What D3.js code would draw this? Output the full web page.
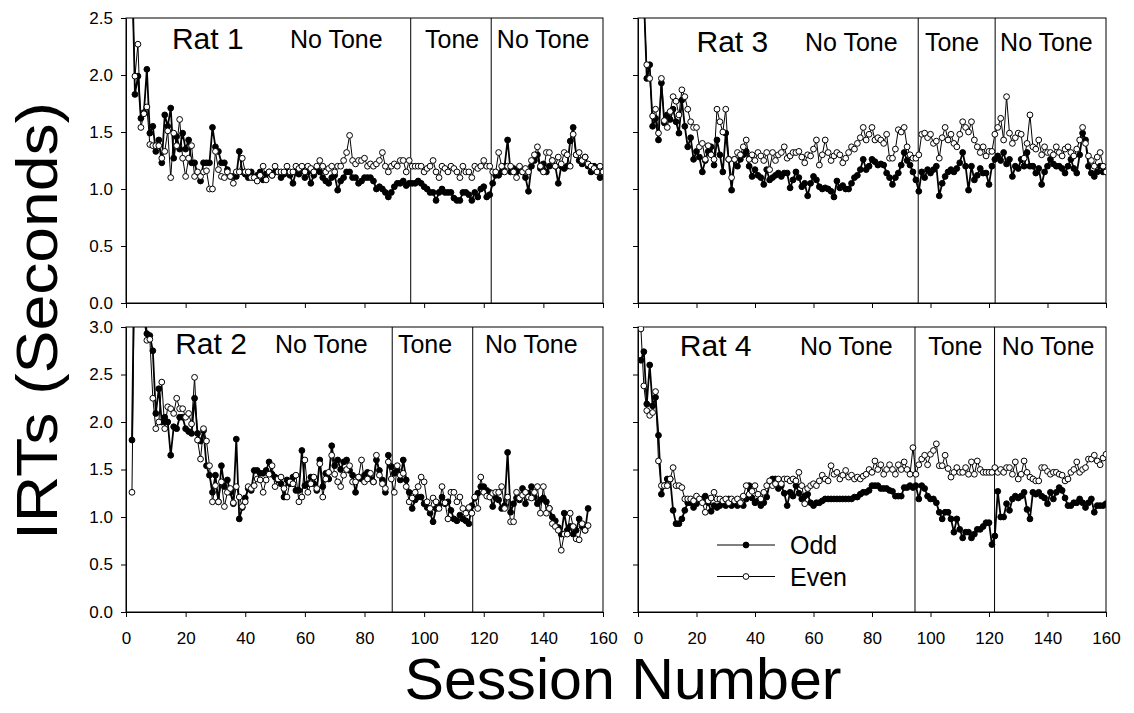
<!DOCTYPE html>
<html lang="en">
<head>
    <meta charset="utf-8" />
    <title>IRTs by Session</title>
    <script src="https://d3js.org/d3.v7.min.js"></script>
    <style>
        body { margin: 0; background: white; }
        svg { display: block; }
        text { font-family: "Liberation Sans", Arial, Helvetica, sans-serif; fill: black; }
        .axis path, .axis line { stroke: black; stroke-width: 1; }
        .axis text { font-size: 17px; fill: black; font-family: "Liberation Sans", Arial, sans-serif; }
    </style>
</head>
<body>
    <script>
        // Session numbers (x categories)
        const sessions = d3.range(1, 161);

        // Rat 1 (top left)
        const rat1Odd = [
            3.60, 3.00, 1.83, 1.99, 1.62, 1.67, 2.05, 1.49, 1.55, 1.33,
            1.43, 1.23, 1.65, 1.55, 1.71, 1.27, 1.46, 1.35, 1.49, 1.35,
            1.43, 1.23, 1.23, 1.13, 1.07, 1.23, 1.23, 1.23, 1.54, 1.37,
            1.33, 1.23, 1.23, 1.17, 1.11, 1.11, 1.11, 1.33, 1.15, 1.13,
            1.10, 1.15, 1.10, 1.12, 1.15, 1.08, 1.13, 1.15, 1.12, 1.15,
            1.15, 1.10, 1.13, 1.15, 1.12, 1.05, 1.15, 1.13, 1.17, 1.10,
            1.15, 1.05, 1.12, 1.17, 1.15, 1.10, 1.07, 1.05, 1.10, 1.12,
            0.99, 1.07, 1.10, 1.15, 1.15, 1.10, 1.10, 1.05, 1.07, 1.10,
            1.10, 1.10, 1.07, 1.00, 1.02, 1.00, 0.97, 0.93, 0.97, 1.02,
            1.05, 1.05, 1.07, 1.03, 1.05, 1.05, 1.05, 1.07, 1.05, 1.02,
            1.00, 0.97, 0.97, 0.90, 0.97, 1.00, 0.97, 0.97, 0.97, 0.92,
            0.90, 0.90, 0.97, 0.97, 0.95, 0.90, 0.97, 0.93, 1.00, 1.02,
            0.93, 0.95, 1.05, 1.12, 1.12, 1.15, 1.20, 1.43, 1.15, 1.18,
            1.15, 1.18, 1.15, 1.10, 0.98, 1.20, 1.25, 1.30, 1.18, 1.22,
            1.15, 1.20, 1.25, 1.20, 1.05, 1.20, 1.18, 1.20, 1.42, 1.54,
            1.30, 1.25, 1.22, 1.28, 1.20, 1.15, 1.20, 1.15, 1.10, 1.15
        ];
        const rat1Even = [
            3.30, 2.80, 1.99, 2.27, 1.54, 1.66, 1.72, 1.39, 1.38, 1.38,
            1.38, 1.27, 1.33, 1.51, 1.10, 1.49, 1.38, 1.61, 1.27, 1.11,
            1.27, 1.38, 1.11, 1.15, 1.11, 1.15, 1.16, 1.00, 1.00, 1.33,
            1.17, 1.11, 1.10, 1.15, 1.11, 1.05, 1.15, 1.15, 1.27, 1.15,
            1.15, 1.10, 1.10, 1.07, 1.12, 1.20, 1.08, 1.15, 1.12, 1.20,
            1.15, 1.15, 1.15, 1.20, 1.15, 1.15, 1.20, 1.18, 1.20, 1.15,
            1.20, 1.18, 1.15, 1.20, 1.25, 1.20, 1.15, 1.18, 1.20, 1.15,
            1.20, 1.20, 1.25, 1.32, 1.47, 1.25, 1.22, 1.25, 1.25, 1.27,
            1.20, 1.22, 1.20, 1.22, 1.25, 1.32, 1.20, 1.15, 1.20, 1.22,
            1.20, 1.25, 1.25, 1.15, 1.25, 1.20, 1.20, 1.20, 1.20, 1.15,
            1.18, 1.20, 1.25, 1.15, 1.10, 1.20, 1.18, 1.15, 1.20, 1.18,
            1.15, 1.10, 1.20, 1.15, 1.15, 1.10, 1.20, 1.18, 1.20, 1.25,
            1.20, 1.20, 1.15, 1.15, 1.32, 1.20, 1.15, 1.20, 1.20, 1.15,
            1.10, 1.20, 1.15, 1.18, 1.15, 1.25, 1.30, 1.37, 1.20, 1.15,
            1.32, 1.32, 1.25, 1.20, 1.28, 1.22, 1.32, 1.30, 1.20, 1.48,
            1.30, 1.32, 1.25, 1.28, 1.22, 1.20, 1.18, 1.15, 1.20, 1.15
        ];

        // Rat 3 (top right)
        const rat3Odd = [
            3.20, 2.70, 1.97, 2.09, 1.55, 1.62, 1.43, 1.93, 1.58, 1.65,
            1.61, 1.70, 1.59, 1.49, 1.78, 1.55, 1.37, 1.45, 1.26, 1.33,
            1.28, 1.15, 1.25, 1.33, 1.37, 1.21, 1.43, 1.30, 1.15, 1.49,
            1.26, 0.99, 1.26, 1.20, 1.26, 1.30, 1.33, 1.20, 1.11, 1.17,
            1.12, 1.10, 1.04, 1.17, 1.08, 1.10, 1.12, 1.14, 1.11, 1.14,
            1.14, 1.01, 1.08, 1.15, 1.10, 1.02, 1.05, 0.94, 1.05, 1.11,
            1.08, 1.02, 1.00, 1.01, 1.00, 0.98, 0.93, 1.07, 1.01, 1.03,
            1.00, 1.00, 1.05, 1.10, 1.12, 1.17, 1.26, 1.17, 1.20, 1.26,
            1.24, 1.21, 1.22, 1.21, 1.14, 1.10, 1.04, 1.10, 1.14, 1.21,
            1.32, 1.25, 1.21, 1.15, 1.08, 0.98, 1.15, 1.10, 1.17, 1.14,
            1.17, 1.20, 0.94, 1.05, 1.11, 1.15, 1.17, 1.15, 1.18, 1.23,
            1.32, 1.20, 0.99, 1.20, 1.08, 1.12, 1.18, 1.14, 1.14, 1.04,
            1.20, 1.26, 1.29, 1.25, 1.32, 1.22, 1.26, 1.11, 1.20, 1.18,
            1.26, 1.20, 1.32, 1.20, 1.20, 1.14, 1.18, 1.04, 1.15, 1.20,
            1.26, 1.22, 1.20, 1.20, 1.18, 1.14, 1.20, 1.26, 1.18, 1.14,
            1.30, 1.49, 1.43, 1.20, 1.14, 1.11, 1.15, 1.20, 1.15, 1.15
        ];
        const rat3Even = [
            3.00, 2.60, 2.09, 1.97, 1.64, 1.70, 1.49, 1.97, 1.60, 1.54,
            1.68, 1.81, 1.77, 1.65, 1.87, 1.81, 1.70, 1.59, 1.54, 1.54,
            1.37, 1.40, 1.26, 1.38, 1.30, 1.26, 1.70, 1.59, 1.50, 1.70,
            1.26, 1.10, 1.26, 1.32, 1.30, 1.37, 1.43, 1.26, 1.30, 1.25,
            1.32, 1.29, 1.25, 1.32, 1.17, 1.32, 1.25, 1.30, 1.32, 1.37,
            1.27, 1.29, 1.32, 1.32, 1.33, 1.28, 1.23, 1.30, 1.29, 1.35,
            1.43, 1.21, 1.30, 1.43, 1.32, 1.25, 1.29, 1.32, 1.30, 1.23,
            1.27, 1.32, 1.37, 1.35, 1.40, 1.45, 1.54, 1.43, 1.48, 1.54,
            1.43, 1.45, 1.43, 1.40, 1.48, 1.27, 1.27, 1.35, 1.52, 1.50,
            1.54, 1.37, 1.30, 1.27, 1.27, 1.30, 1.48, 1.49, 1.45, 1.48,
            1.40, 1.42, 1.27, 1.45, 1.54, 1.43, 1.48, 1.40, 1.37, 1.48,
            1.59, 1.54, 1.50, 1.59, 1.43, 1.37, 1.32, 1.37, 1.29, 1.33,
            1.33, 1.48, 1.54, 1.62, 1.43, 1.81, 1.49, 1.40, 1.45, 1.49,
            1.48, 1.27, 1.40, 1.65, 1.37, 1.35, 1.43, 1.30, 1.37, 1.32,
            1.32, 1.30, 1.37, 1.32, 1.29, 1.35, 1.37, 1.32, 1.29, 1.35,
            1.43, 1.54, 1.40, 1.29, 1.25, 1.20, 1.28, 1.32, 1.20, 1.15
        ];

        // Rat 2 (bottom left), no data for session 1 and after 155
        const rat2Odd = [
            null, 1.81, 4.20, 3.80, 3.50, 3.20, 2.93, 2.91, 2.75, 2.09,
            2.35, 2.00, 2.05, 2.00, 1.65, 1.95, 1.93, 2.05, 2.05, 1.93,
            1.90, 1.88, 2.25, 1.88, 1.80, 1.91, 1.54, 1.44, 1.26, 1.44,
            1.16, 1.54, 1.32, 1.39, 1.26, 1.14, 1.82, 0.98, 1.10, 1.20,
            1.30, 1.28, 1.49, 1.49, 1.46, 1.46, 1.49, 1.58, 1.45, 1.42,
            1.39, 1.35, 1.21, 1.39, 1.35, 1.42, 1.28, 1.28, 1.70, 1.33,
            1.35, 1.42, 1.35, 1.28, 1.60, 1.32, 1.46, 1.40, 1.75, 1.54,
            1.60, 1.50, 1.58, 1.60, 1.49, 1.44, 1.26, 1.42, 1.40, 1.44,
            1.47, 1.40, 1.37, 1.60, 1.49, 1.39, 1.26, 1.65, 1.53, 1.46,
            1.50, 1.39, 1.60, 1.39, 1.26, 1.09, 1.18, 1.21, 1.21, 1.14,
            1.10, 1.04, 0.95, 1.09, 1.12, 1.21, 1.14, 1.16, 1.07, 0.98,
            0.96, 1.02, 0.98, 0.96, 0.93, 1.12, 1.20, 1.25, 1.32, 1.32,
            1.28, 1.26, 1.11, 1.20, 1.18, 1.09, 1.12, 1.68, 1.05, 1.14,
            1.20, 1.18, 1.30, 1.14, 1.25, 1.32, 1.21, 1.14, 1.18, 1.20,
            1.16, 1.09, 1.00, 0.96, 0.89, 0.82, 1.04, 0.86, 0.90, 0.82,
            0.86, 0.98, 0.90, 0.86, 1.09, null, null, null, null, null
        ];
        const rat2Even = [
            null, 1.26, 4.00, 3.70, 3.40, 3.10, 2.86, 2.87, 2.25, 1.93,
            2.00, 2.42, 1.93, 2.16, 2.14, 2.09, 2.25, 2.14, 2.14, 2.05,
            2.09, 1.98, 2.47, 1.81, 1.61, 1.93, 1.80, 1.54, 1.16, 1.33,
            1.16, 1.37, 1.11, 1.26, 1.30, 1.15, 1.32, 1.21, 1.11, 1.16,
            1.32, 1.30, 1.33, 1.40, 1.39, 1.26, 1.39, 1.45, 1.54, 1.32,
            1.40, 1.42, 1.30, 1.21, 1.37, 1.35, 1.44, 1.16, 1.21, 1.60,
            1.26, 1.35, 1.42, 1.30, 1.56, 1.21, 1.40, 1.47, 1.65, 1.45,
            1.37, 1.32, 1.44, 1.50, 1.54, 1.37, 1.37, 1.42, 1.60, 1.37,
            1.40, 1.46, 1.37, 1.65, 1.44, 1.35, 1.30, 1.58, 1.40, 1.26,
            1.54, 1.44, 1.46, 1.32, 1.16, 1.20, 1.26, 1.32, 1.42, 1.37,
            1.16, 1.09, 1.20, 1.16, 1.09, 1.32, 1.15, 0.98, 1.26, 1.26,
            1.16, 1.21, 1.09, 1.04, 1.10, 1.04, 1.21, 1.09, 1.42, 1.26,
            1.22, 1.21, 1.25, 1.26, 1.26, 1.32, 1.09, 1.21, 0.95, 0.95,
            1.26, 1.20, 1.23, 1.26, 1.21, 1.20, 1.26, 1.32, 1.04, 1.32,
            1.04, 1.09, 0.93, 0.90, 0.86, 0.65, 0.82, 0.82, 1.04, 0.90,
            0.77, 0.76, 0.93, 0.86, 0.91, null, null, null, null, null
        ];

        // Rat 4 (bottom right)
        const rat4Odd = [
            2.65, 2.74, 2.19, 2.60, 2.17, 2.26, 1.86, 1.24, 1.33, 1.40,
            1.40, 1.07, 0.93, 0.93, 0.98, 1.07, 1.15, 1.15, 1.10, 1.14,
            1.17, 1.19, 1.22, 1.15, 1.06, 1.12, 1.10, 1.12, 1.15, 1.12,
            1.19, 1.12, 1.15, 1.12, 1.15, 1.12, 1.19, 1.33, 1.20, 1.15,
            1.17, 1.12, 1.15, 1.21, 1.35, 1.40, 1.40, 1.30, 1.33, 1.25,
            1.12, 1.26, 1.22, 1.33, 1.25, 1.19, 1.22, 1.24, 1.15, 1.12,
            1.15, 1.15, 1.17, 1.19, 1.19, 1.19, 1.19, 1.19, 1.19, 1.19,
            1.19, 1.19, 1.19, 1.21, 1.21, 1.24, 1.26, 1.26, 1.28, 1.33,
            1.33, 1.33, 1.30, 1.30, 1.30, 1.28, 1.27, 1.22, 1.22, 1.22,
            1.31, 1.31, 1.33, 1.31, 1.33, 1.19, 1.33, 1.30, 1.22, 1.19,
            1.19, 1.15, 1.05, 0.98, 1.05, 1.05, 0.98, 0.84, 0.98, 0.87,
            0.78, 0.84, 0.84, 0.78, 0.82, 0.87, 0.87, 0.90, 0.94, 0.94,
            0.71, 0.80, 1.27, 1.00, 1.00, 1.14, 1.07, 1.19, 1.22, 1.20,
            1.22, 1.26, 1.08, 0.98, 1.26, 1.24, 1.26, 1.22, 1.20, 1.14,
            1.26, 1.19, 1.26, 1.31, 1.28, 1.20, 1.12, 1.12, 1.15, 1.15,
            1.19, 1.15, 1.10, 1.15, 1.19, 1.05, 1.12, 1.12, 1.12, 1.14
        ];
        const rat4Even = [
            2.98, 2.38, 2.12, 2.07, 2.10, 2.32, 1.59, 1.33, 1.33, 1.33,
            1.40, 1.52, 1.33, 1.33, 1.31, 1.19, 1.19, 1.19, 1.17, 1.22,
            1.19, 1.15, 1.05, 1.17, 1.20, 1.26, 1.19, 1.19, 1.17, 1.19,
            1.15, 1.19, 1.17, 1.19, 1.15, 1.22, 1.33, 1.24, 1.27, 1.33,
            1.24, 1.19, 1.26, 1.33, 1.38, 1.33, 1.35, 1.40, 1.35, 1.40,
            1.40, 1.38, 1.40, 1.38, 1.47, 1.33, 1.14, 1.30, 1.33, 1.35,
            1.33, 1.38, 1.44, 1.40, 1.38, 1.54, 1.45, 1.47, 1.40, 1.44,
            1.49, 1.42, 1.44, 1.40, 1.42, 1.40, 1.43, 1.45, 1.50, 1.47,
            1.59, 1.50, 1.55, 1.45, 1.50, 1.55, 1.50, 1.45, 1.55, 1.50,
            1.58, 1.50, 1.45, 1.73, 1.45, 1.55, 1.61, 1.65, 1.55, 1.66,
            1.70, 1.77, 1.54, 1.54, 1.65, 1.51, 1.42, 1.47, 1.52, 1.47,
            1.47, 1.52, 1.45, 1.58, 1.45, 1.59, 1.50, 1.47, 1.47, 1.47,
            1.47, 1.52, 1.47, 1.50, 1.47, 1.52, 1.52, 1.45, 1.58, 1.40,
            1.45, 1.59, 1.47, 1.42, 1.40, 1.38, 1.38, 1.52, 1.52, 1.48,
            1.45, 1.47, 1.47, 1.45, 1.44, 1.38, 1.40, 1.47, 1.50, 1.58,
            1.47, 1.50, 1.52, 1.61, 1.61, 1.65, 1.59, 1.55, 1.62, 1.66
        ];

        // Tick values
        const xTicks = [0, 20, 40, 60, 80, 100, 120, 140, 160];
        const yTicksTop = [0, 0.5, 1.0, 1.5, 2.0, 2.5];
        const yTicksBottom = [0, 0.5, 1.0, 1.5, 2.0, 2.5, 3.0];

        // Session where the tone phase starts and ends, per rat
        const rat1Breaks = [95.5, 122.5];
        const rat2Breaks = [89.3, 116.3];
        const rat3Breaks = [95.8, 122.1];
        const rat4Breaks = [94.7, 121.9];

        const phaseNames = ["No Tone", "Tone", "No Tone"];
        const seriesNames = ["Odd", "Even"];

        // Page layout
        const width = 1134, height = 713;
        const colX = [126, 638], colW = [477, 468];
        const rowY = [18, 327], rowH = 285;

        const panels = [
            { name: "Rat 1", odd: rat1Odd, even: rat1Even, breaks: rat1Breaks, yMax: 2.5, yTicks: yTicksTop,
              col: 0, row: 0, nameAt: 15.4, phaseAt: [55, 100.3, 124.4], base: 31 },
            { name: "Rat 3", odd: rat3Odd, even: rat3Even, breaks: rat3Breaks, yMax: 2.5, yTicks: yTicksTop,
              col: 1, row: 0, nameAt: 20, phaseAt: [57.1, 98.1, 123.8], base: 34 },
            { name: "Rat 2", odd: rat2Odd, even: rat2Even, breaks: rat2Breaks, yMax: 3.0, yTicks: yTicksBottom,
              col: 0, row: 1, nameAt: 16.5, phaseAt: [50, 91.2, 120.4], base: 27 },
            { name: "Rat 4", odd: rat4Odd, even: rat4Even, breaks: rat4Breaks, yMax: 3.0, yTicks: yTicksBottom,
              col: 1, row: 1, nameAt: 14.3, phaseAt: [55.4, 99.2, 124.4], base: 29, legend: true }
        ];

        const svg = d3.select("body")
            .append("svg")
            .attr("width", width)
            .attr("height", height);

        panels.forEach((p, k) => {
            const w = colW[p.col], h = rowH;
            const g = svg.append("g")
                .attr("transform", `translate(${colX[p.col]},${rowY[p.row]})`);

            const x = d3.scaleLinear().domain([0, 160]).range([0, w]);
            const y = d3.scaleLinear().domain([0, p.yMax]).range([h, 0]);

            // Axes: labels only on the left column / bottom row
            g.append("g")
                .attr("class", "axis")
                .call(d3.axisLeft(y).tickValues(p.yTicks).tickSize(5).tickSizeOuter(0).tickPadding(8)
                    .tickFormat(p.col === 0 ? d3.format(".1f") : ""));

            g.append("g")
                .attr("class", "axis")
                .attr("transform", `translate(0,${h})`)
                .call(d3.axisBottom(x).tickValues(xTicks).tickSize(5).tickSizeOuter(0).tickPadding(15)
                    .tickFormat(p.row === 1 ? d3.format("d") : ""));

            // Panel frame
            g.append("rect")
                .attr("width", w)
                .attr("height", h)
                .attr("fill", "none")
                .attr("stroke", "black")
                .attr("stroke-width", 1);

            // Phase dividers
            g.selectAll(".divider")
                .data(p.breaks)
                .join("line")
                .attr("class", "divider")
                .attr("x1", d => x(d)).attr("x2", d => x(d))
                .attr("y1", 0).attr("y2", h)
                .attr("stroke", "black")
                .attr("stroke-width", 1);

            // Labels
            g.append("text")
                .attr("x", x(p.nameAt))
                .attr("y", p.base)
                .style("font-size", "30px")
                .text(p.name);

            g.selectAll(".phase")
                .data(phaseNames)
                .join("text")
                .attr("class", "phase")
                .attr("x", (d, i) => x(p.phaseAt[i]))
                .attr("y", p.base - 1)
                .style("font-size", "25px")
                .text(d => d);

            // Clip data to the panel
            const clipId = "clip" + k;
            g.append("clipPath").attr("id", clipId)
                .append("rect").attr("width", w).attr("height", h);
            const plot = g.append("g").attr("clip-path", `url(#${clipId})`);

            const series = [
                { values: p.odd, fill: "black", lw: 1.8 },
                { values: p.even, fill: "white", lw: 1 }
            ];

            series.forEach(s => {
                const pts = sessions.map((sess, i) => ({ s: sess, v: s.values[i] }));
                const line = d3.line()
                    .defined(d => d.v != null)
                    .x(d => x(d.s))
                    .y(d => y(d.v));

                plot.append("path")
                    .datum(pts)
                    .attr("fill", "none")
                    .attr("stroke", "black")
                    .attr("stroke-width", s.lw)
                    .attr("d", line);

                plot.selectAll(null)
                    .data(pts.filter(d => d.v != null))
                    .join("circle")
                    .attr("cx", d => x(d.s))
                    .attr("cy", d => y(d.v))
                    .attr("r", 2.9)
                    .attr("fill", s.fill)
                    .attr("stroke", "black")
                    .attr("stroke-width", 1);
            });

            // Legend (Rat 4 panel)
            if (p.legend) {
                const leg = g.selectAll(".legend")
                    .data(seriesNames)
                    .join("g")
                    .attr("class", "legend")
                    .attr("transform", (d, i) => `translate(79,${218 + i * 31.5})`);
                leg.append("line")
                    .attr("x1", 0).attr("x2", 58)
                    .attr("stroke", "black").attr("stroke-width", 1);
                leg.append("circle")
                    .attr("cx", 29).attr("r", 2.9)
                    .attr("fill", (d, i) => i === 0 ? "black" : "white")
                    .attr("stroke", "black");
                leg.append("text")
                    .attr("x", 73)
                    .attr("y", 9)
                    .style("font-size", "25px")
                    .text(d => d);
            }
        });

        // Shared axis titles
        svg.append("text")
            .attr("transform", "translate(57,321) rotate(-90)")
            .attr("text-anchor", "middle")
            .attr("textLength", 438)
            .attr("lengthAdjust", "spacingAndGlyphs")
            .style("font-size", "58px")
            .text("IRTs (Seconds)");

        svg.append("text")
            .attr("x", 623)
            .attr("y", 699)
            .attr("text-anchor", "middle")
            .attr("textLength", 437)
            .attr("lengthAdjust", "spacingAndGlyphs")
            .style("font-size", "57px")
            .text("Session Number");
    </script>
</body>
</html>
